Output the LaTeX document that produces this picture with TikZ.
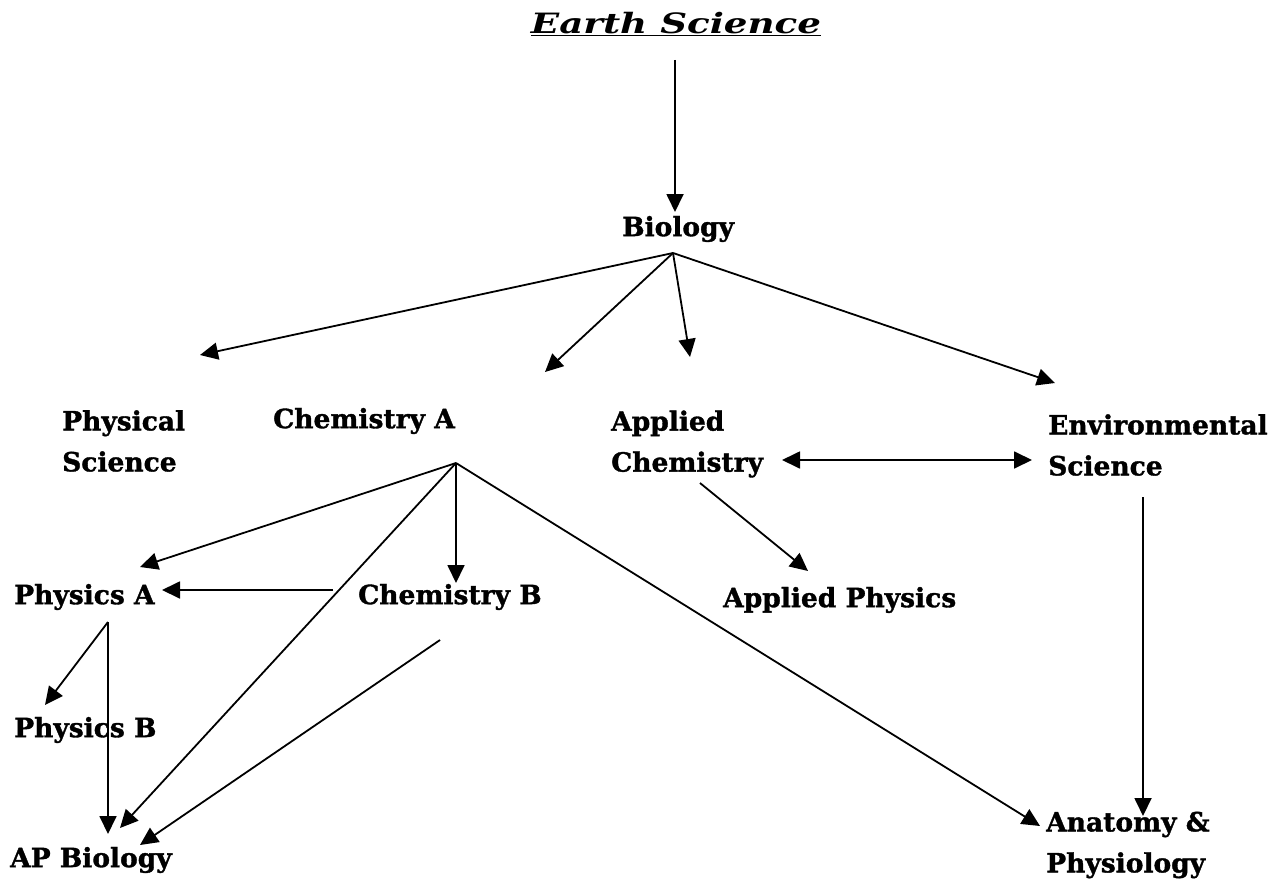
\documentclass[tikz,border=0pt]{standalone}
\usepackage{fontspec}
\setmainfont{DejaVu Serif}[BoldFeatures={FakeBold=1.3}]
\usetikzlibrary{arrows.meta}
\begin{document}
\begin{tikzpicture}[x=1pt,y=-1pt,
  lbl/.style={anchor=west,inner sep=0pt,font=\fontsize{26.5}{41}\selectfont\bfseries,align=left},
  conn/.style={line width=1.8pt,-{Triangle[length=18pt,width=17pt]}},
  conn2/.style={line width=1.8pt,{Triangle[length=18pt,width=17pt]}-{Triangle[length=18pt,width=17pt]}}]
\useasboundingbox[fill=white] (0,0) rectangle (1273,880);
% nodes
\node[lbl,anchor=center,font=\fontsize{28}{41}\selectfont\bfseries] (earth) at (676,24) {\scalebox{1.33}[1]{\itshape\underline{Earth Science}}};
\node[lbl] (bio) at (622,229) {Biology};
\node[lbl] (phys) at (62,441) {Physical\\Science};
\node[lbl] (chemA) at (273,421) {Chemistry A};
\node[lbl] (appchem) at (611,444) {Applied\\Chemistry};
\node[lbl] (env) at (1048,445) {Environmental\\Science};
\node[lbl] (physA) at (14,597) {Physics A};
\node[lbl] (chemB) at (358,597) {Chemistry B};
\node[lbl] (appphys) at (723,600) {Applied Physics};
\node[lbl] (physB) at (14,730) {Physics B};
\node[lbl] (apbio) at (10,860) {AP Biology};
\node[lbl] (anat) at (1046,845) {Anatomy \&\\Physiology};
% hub and end coordinates
\coordinate (e1) at (675,60);
\coordinate (e2) at (675,212);
\coordinate (b0) at (673,253);
\coordinate (bPhys) at (200,355);
\coordinate (bChemA) at (545,372);
\coordinate (bApp) at (690,357);
\coordinate (bEnv) at (1055,383);
\coordinate (c0) at (456,463);
\coordinate (cPhysA) at (140,567);
\coordinate (cAP) at (120,828);
\coordinate (cChemB) at (456,583);
\coordinate (cAnat) at (1040,826);
\coordinate (cbStart) at (333,590);
\coordinate (cbPhysA) at (162,590);
\coordinate (cb0) at (440,640);
\coordinate (cbAP) at (140,845);
\coordinate (pa0) at (108,622);
\coordinate (paB) at (45,705);
\coordinate (paAP) at (108,834);
\coordinate (acL) at (782,460);
\coordinate (acR) at (1032,460);
\coordinate (ac0) at (700,483);
\coordinate (acAP) at (808,571);
\coordinate (en0) at (1143,497);
\coordinate (enAn) at (1143,816);
% connectors
\draw[conn] (e1) -- (e2);
\draw[conn] (b0) -- (bPhys);
\draw[conn] (b0) -- (bChemA);
\draw[conn] (b0) -- (bApp);
\draw[conn] (b0) -- (bEnv);
\draw[conn] (c0) -- (cPhysA);
\draw[conn] (c0) -- (cAP);
\draw[conn] (c0) -- (cChemB);
\draw[conn] (c0) -- (cAnat);
\draw[conn] (cbStart) -- (cbPhysA);
\draw[conn] (cb0) -- (cbAP);
\draw[conn] (pa0) -- (paB);
\draw[conn] (pa0) -- (paAP);
\draw[conn2] (acL) -- (acR);
\draw[conn] (ac0) -- (acAP);
\draw[conn] (en0) -- (enAn);
\end{tikzpicture}
\end{document}
